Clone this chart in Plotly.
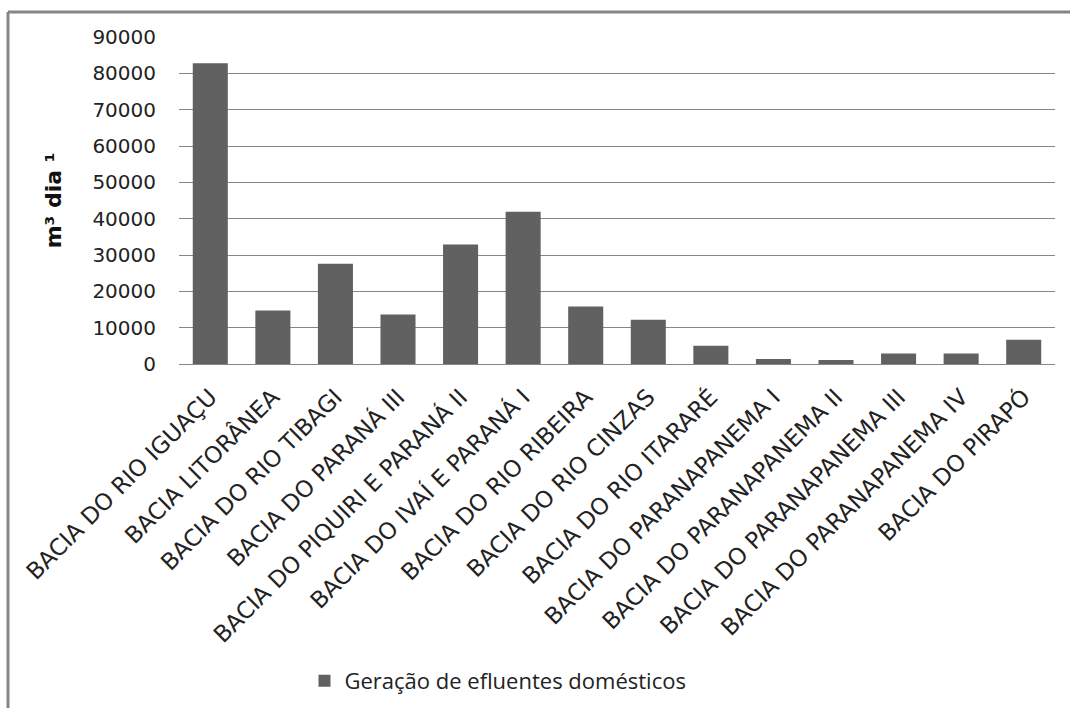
import plotly.graph_objects as go

# Bacias hidrográficas do Paraná
categories = [
    "BACIA DO RIO IGUAÇU",
    "BACIA LITORÂNEA",
    "BACIA DO RIO TIBAGI",
    "BACIA DO PARANÁ III",
    "BACIA DO PIQUIRI E PARANÁ II",
    "BACIA DO IVAÍ E PARANÁ I",
    "BACIA DO RIO RIBEIRA",
    "BACIA DO RIO CINZAS",
    "BACIA DO RIO ITARARÉ",
    "BACIA DO PARANAPANEMA I",
    "BACIA DO PARANAPANEMA II",
    "BACIA DO PARANAPANEMA III",
    "BACIA DO PARANAPANEMA IV",
    "BACIA DO PIRAPÓ",
]

# Geração de efluentes domésticos (m³/dia)
efluentes = [82800, 14700, 27600, 13600, 32900, 41900, 15800, 12200,
             5000, 1400, 1100, 2900, 2900, 6700]

y_ticks = [0, 10000, 20000, 30000, 40000, 50000, 60000, 70000, 80000, 90000]

W, H = 1070, 708
ML, MR, MT, MB = 179, 15, 37, 344

fig = go.Figure()
fig.add_trace(go.Bar(
    x=categories,
    y=efluentes,
    name="Geração de efluentes domésticos",
    marker=dict(color="#616161", line=dict(width=0)),
))

fig.update_layout(
    width=W,
    height=H,
    margin=dict(l=ML, r=MR, t=MT, b=MB),
    paper_bgcolor="white",
    plot_bgcolor="white",
    bargap=0.44,
    font=dict(family="DejaVu Sans", color="#222222"),
    showlegend=True,
    legend=dict(
        orientation="h",
        xref="container", yref="container",
        x=498 / W, xanchor="center",
        y=(H - 681) / H, yanchor="middle",
        font=dict(family="Open Sans", size=22, color="#222222"),
        bgcolor="rgba(0,0,0,0)",
    ),
    xaxis=dict(
        tickangle=-45,
        tickfont=dict(family="DejaVu Sans", size=23, color="#222222"),
        showgrid=False,
        showline=False,
        ticks="",
        ticklabelstandoff=14,
    ),
    yaxis=dict(
        range=[0, 90000],
        tickvals=y_ticks,
        ticktext=[str(v) for v in y_ticks],
        tickfont=dict(family="DejaVu Sans", size=20, color="#222222"),
        showgrid=True,
        gridcolor="#868686",
        gridwidth=1,
        zeroline=True,
        zerolinecolor="#868686",
        zerolinewidth=1,
        ticks="",
        ticklabelstandoff=22,
        title=dict(
            text="<b>m³ dia ¹</b>",
            font=dict(family="DejaVu Sans", size=22, color="#111111"),
            standoff=24,
        ),
    ),
    shapes=[
        # chart frame: top and left edges
        dict(type="line", xref="paper", yref="paper",
             x0=(8 - ML) / (W - ML - MR), x1=(W + 10 - ML) / (W - ML - MR),
             y0=(H - 12 - MB) / (H - MT - MB), y1=(H - 12 - MB) / (H - MT - MB),
             line=dict(color="#868686", width=3)),
        dict(type="line", xref="paper", yref="paper",
             x0=(8 - ML) / (W - ML - MR), x1=(8 - ML) / (W - ML - MR),
             y0=(H - 12 - MB) / (H - MT - MB), y1=(-10 - MB) / (H - MT - MB),
             line=dict(color="#868686", width=3)),
    ],
)

fig.write_html("out.html")
